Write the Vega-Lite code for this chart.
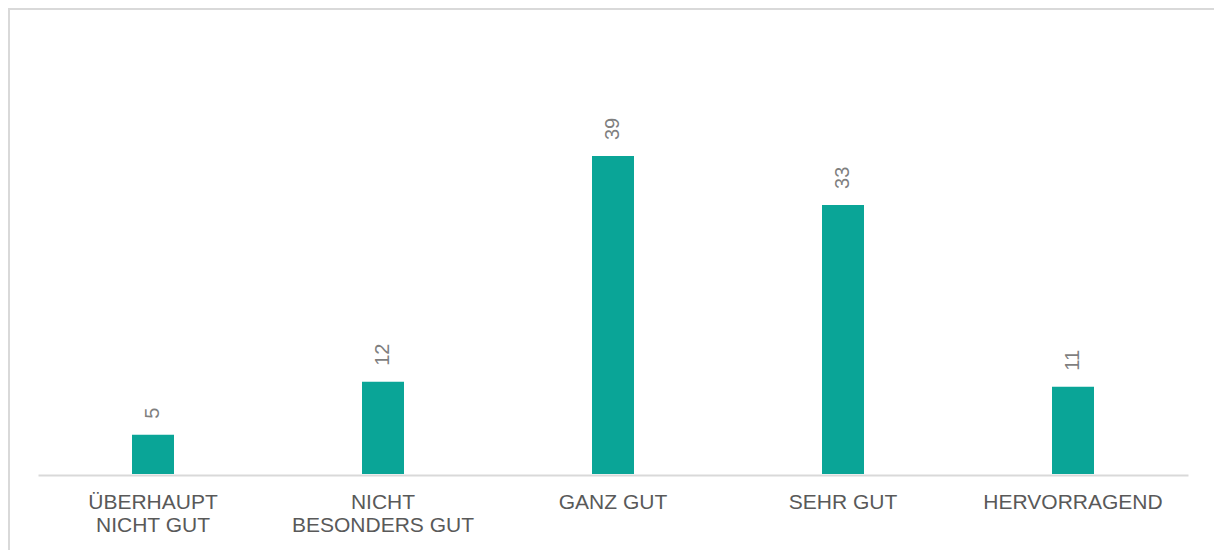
{
  "$schema": "https://vega.github.io/schema/vega-lite/v6.json",
  "autosize": {"type": "none"},
  "padding": {"left": 9, "top": 9, "right": -100, "bottom": -100},
  "width": 1305,
  "height": 641,
  "background": "white",
  "config": {
    "view": {"stroke": "#d9d9d9", "strokeWidth": 2},
    "font": "Liberation Sans"
  },
  "data": {
    "values": [
      {"category": "ÜBERHAUPT NICHT GUT", "value": 4.8, "label": "5"},
      {"category": "NICHT BESONDERS GUT", "value": 11.3, "label": "12"},
      {"category": "GANZ GUT", "value": 39, "label": "39"},
      {"category": "SEHR GUT", "value": 33, "label": "33"},
      {"category": "HERVORRAGEND", "value": 10.7, "label": "11"}
    ]
  },
  "encoding": {
    "x": {
      "field": "category",
      "type": "nominal",
      "sort": null,
      "scale": {"range": [29, 1179], "paddingInner": 0, "paddingOuter": 0},
      "axis": {
        "title": null,
        "offset": -175,
        "ticks": false,
        "domainColor": "#d9d9d9",
        "domainWidth": 2,
        "labelAngle": 0,
        "labelFontSize": 21,
        "labelColor": "#595959",
        "labelPadding": 16,
        "labelLimit": 0,
        "labelLineHeight": 23.5,
        "labelFont": "Liberation Sans",
        "labelExpr": "datum.label == 'ÜBERHAUPT NICHT GUT' ? ['ÜBERHAUPT', 'NICHT GUT'] : datum.label == 'NICHT BESONDERS GUT' ? ['NICHT', 'BESONDERS GUT'] : datum.label"
      }
    },
    "y": {
      "field": "value",
      "type": "quantitative",
      "scale": {"domain": [0, 57.03], "range": [465, 0], "nice": false, "zero": true},
      "axis": null
    }
  },
  "layer": [
    {"mark": {"type": "bar", "width": 42, "color": "#0aa597"}},
    {
      "mark": {"type": "text", "angle": 270, "align": "left", "baseline": "middle", "dx": 16, "fontSize": 20, "color": "#7f7f7f", "font": "Liberation Sans"},
      "encoding": {"text": {"field": "label"}}
    }
  ]
}
